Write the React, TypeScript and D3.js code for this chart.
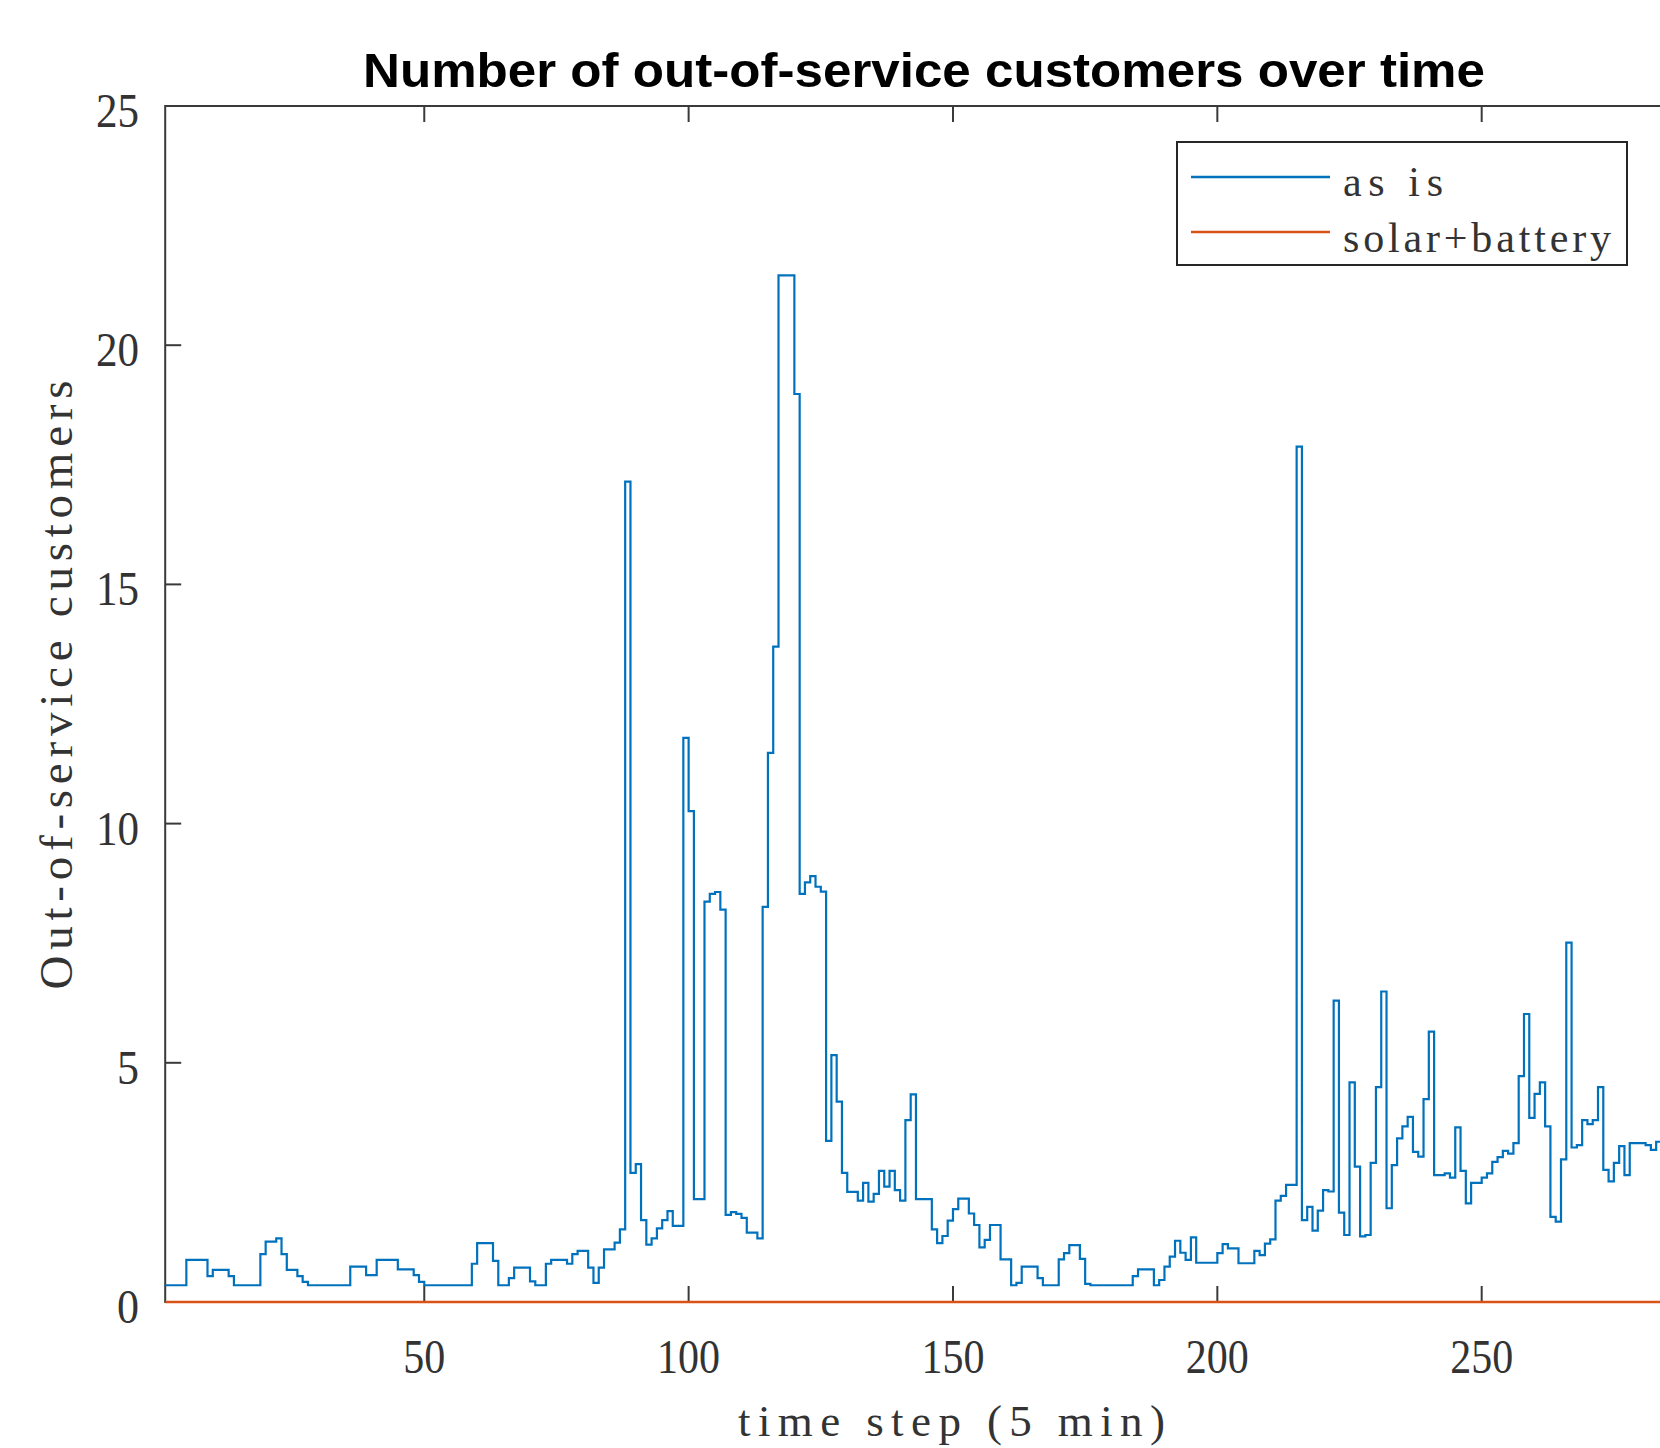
import React from "react";
import * as d3 from "d3";

// ---- data ----
const asIsRows: number[][] = [
  // steps 1-20
  [0.35, 0.35, 0.35, 0.35, 0.88, 0.88, 0.88, 0.88, 0.54, 0.67, 0.67, 0.67, 0.54, 0.35, 0.35, 0.35, 0.35, 0.35, 1.0, 1.26],
  // 21-40
  [1.26, 1.33, 1.0, 0.67, 0.67, 0.54, 0.42, 0.35, 0.35, 0.35, 0.35, 0.35, 0.35, 0.35, 0.35, 0.74, 0.74, 0.74, 0.56, 0.56],
  // 41-60
  [0.88, 0.88, 0.88, 0.88, 0.68, 0.68, 0.68, 0.56, 0.42, 0.35, 0.35, 0.35, 0.35, 0.35, 0.35, 0.35, 0.35, 0.35, 0.8, 1.23],
  // 61-80
  [1.23, 1.23, 0.86, 0.35, 0.35, 0.5, 0.72, 0.72, 0.72, 0.43, 0.35, 0.35, 0.8, 0.88, 0.88, 0.88, 0.8, 1.0, 1.07, 1.07],
  // 81-100
  [0.72, 0.4, 0.72, 1.1, 1.1, 1.24, 1.52, 17.15, 2.7, 2.88, 1.71, 1.2, 1.33, 1.54, 1.71, 1.9, 1.59, 1.59, 11.79, 10.26],
  // 101-120
  [2.15, 2.15, 8.37, 8.53, 8.57, 8.2, 1.82, 1.88, 1.84, 1.76, 1.45, 1.45, 1.33, 8.26, 11.48, 13.7, 21.46, 21.46, 21.46, 18.98],
  // 121-140
  [8.53, 8.77, 8.9, 8.68, 8.58, 3.37, 5.16, 4.19, 2.7, 2.3, 2.3, 2.12, 2.49, 2.1, 2.26, 2.74, 2.41, 2.74, 2.34, 2.12],
  // 141-160
  [3.8, 4.34, 2.15, 2.15, 2.15, 1.52, 1.23, 1.38, 1.7, 1.94, 2.16, 2.16, 1.85, 1.61, 1.14, 1.3, 1.61, 1.61, 0.89, 0.89],
  // 161-180
  [0.35, 0.4, 0.74, 0.74, 0.74, 0.5, 0.35, 0.35, 0.35, 0.89, 1.02, 1.19, 1.19, 0.9, 0.38, 0.35, 0.35, 0.35, 0.35, 0.35],
  // 181-200
  [0.35, 0.35, 0.35, 0.54, 0.68, 0.68, 0.68, 0.35, 0.46, 0.74, 0.95, 1.28, 1.03, 0.88, 1.35, 0.82, 0.82, 0.82, 0.82, 1.02],
  // 201-220
  [1.21, 1.12, 1.12, 0.81, 0.81, 0.81, 1.07, 0.98, 1.22, 1.31, 2.12, 2.22, 2.45, 2.45, 17.88, 1.71, 1.99, 1.49, 1.91, 2.34],
  // 221-240
  [2.31, 6.3, 1.87, 1.4, 4.59, 2.83, 1.37, 1.4, 2.91, 4.49, 6.49, 1.96, 2.86, 3.42, 3.67, 3.87, 3.14, 3.04, 4.24, 5.65],
  // 241-260
  [2.65, 2.65, 2.69, 2.6, 3.65, 2.74, 2.06, 2.49, 2.49, 2.6, 2.69, 2.93, 3.03, 3.16, 3.1, 3.32, 4.72, 6.02, 3.85, 4.35],
  // 261-280
  [4.59, 3.67, 1.78, 1.68, 2.98, 7.51, 3.23, 3.28, 3.8, 3.72, 3.8, 4.49, 2.76, 2.52, 2.91, 3.26, 2.65, 3.32, 3.32, 3.32],
  // 281-288
  [3.28, 3.18, 3.35, 3.4, 3.4, 3.4, 3.4, 3.4],
];
const asIs: number[] = asIsRows.flat();
// the solar+battery case never has out-of-service customers: 0 at every step
const solarBattery: number[] = asIs.map(() => 0);

const xTicks = [50, 100, 150, 200, 250];
const yTicks = [0, 5, 10, 15, 20, 25];
const seriesNames = ["as is", "solar+battery"];
const seriesColors = ["#0072BD", "#D95319"];
const titleText = "Number of out-of-service customers over time";
const xLabelText = "time step (5 min)";
const yLabelText = "Out-of-service customers";

export default function App() {
  const W = 1660;
  const H = 1448;
  const left = 165.2;
  const right = 1682.6;
  const top = 106;
  const bottom = 1302;

  const x = d3.scaleLinear().domain([1, 288]).range([left, right]);
  const y = d3.scaleLinear().domain([0, 25]).range([bottom, top]);

  const line = d3
    .line<number>()
    .x((_, i) => x(i + 1))
    .y((d) => y(d))
    .curve(d3.curveStepAfter);

  const axisColor = "#3a3a3a";
  const textColor = "#333333";
  const tickLen = 16;
  const serif = "'Liberation Serif', 'DejaVu Serif', serif";
  const digitW = 21;

  return (
    <svg
      width={W}
      height={H}
      viewBox={`0 0 ${W} ${H}`}
      style={{ position: "absolute", left: 0, top: 0, background: "#fff" }}
    >
      <defs>
        <clipPath id="plotClip">
          <rect x={left} y={top - 2} width={right - left} height={bottom - top + 4} />
        </clipPath>
      </defs>
      <rect x={0} y={0} width={W} height={H} fill="#fff" />

      {/* title */}
      <text
        x={363}
        y={87}
        fontFamily="'Liberation Sans', Arial, sans-serif"
        fontWeight="bold"
        fontSize={48}
        fill="#000"
        textLength={1122}
        lengthAdjust="spacingAndGlyphs"
      >
        {titleText}
      </text>

      {/* axes box */}
      <rect
        x={left}
        y={top}
        width={right - left}
        height={bottom - top}
        fill="none"
        stroke={axisColor}
        strokeWidth={2}
      />

      {/* x ticks (bottom and top, inward) */}
      {xTicks.map((t) => (
        <g key={"xt" + t}>
          <line x1={x(t)} x2={x(t)} y1={bottom} y2={bottom - tickLen} stroke={axisColor} strokeWidth={2} />
          <line x1={x(t)} x2={x(t)} y1={top} y2={top + tickLen} stroke={axisColor} strokeWidth={2} />
          <text
            x={x(t)}
            y={1373}
            textAnchor="middle"
            fontFamily={serif}
            fontSize={49}
            fill={textColor}
            textLength={String(t).length * digitW}
            lengthAdjust="spacingAndGlyphs"
          >
            {t}
          </text>
        </g>
      ))}

      {/* y ticks (left, inward) */}
      {yTicks.map((t) => (
        <g key={"yt" + t}>
          <line x1={left} x2={left + tickLen} y1={y(t)} y2={y(t)} stroke={axisColor} strokeWidth={2} />
          <text
            x={139}
            y={y(t) + 21}
            textAnchor="end"
            fontFamily={serif}
            fontSize={49}
            fill={textColor}
            textLength={String(t).length * digitW + 1}
            lengthAdjust="spacingAndGlyphs"
          >
            {t}
          </text>
        </g>
      ))}

      {/* series */}
      <g clipPath="url(#plotClip)">
        <path d={line(asIs) || ""} fill="none" stroke={seriesColors[0]} strokeWidth={2.2} />
        <path d={line(solarBattery) || ""} fill="none" stroke={seriesColors[1]} strokeWidth={2.6} />
      </g>

      {/* x label */}
      <text
        x={738}
        y={1436}
        fontFamily={serif}
        fontSize={45}
        fill={textColor}
        textLength={427}
        lengthAdjust="spacing"
      >
        {xLabelText}
      </text>

      {/* y label */}
      <text
        transform={`translate(72, 685) rotate(-90)`}
        textAnchor="middle"
        fontFamily={serif}
        fontSize={47}
        fill={textColor}
        textLength={609}
        lengthAdjust="spacing"
      >
        {yLabelText}
      </text>

      {/* legend */}
      <g>
        <rect x={1177} y={142} width={450} height={123} fill="#fff" stroke="#262626" strokeWidth={2} />
        {seriesNames.map((name, i) => {
          const ly = i === 0 ? 177 : 232;
          const by = i === 0 ? 196 : 252;
          return (
            <g key={name}>
              <line x1={1191} x2={1330} y1={ly} y2={ly} stroke={seriesColors[i]} strokeWidth={2.4} />
              <text
                x={1343}
                y={by}
                fontFamily={serif}
                fontSize={42}
                fill={textColor}
                textLength={i === 0 ? 100 : 268}
                lengthAdjust="spacing"
              >
                {name}
              </text>
            </g>
          );
        })}
      </g>
    </svg>
  );
}
